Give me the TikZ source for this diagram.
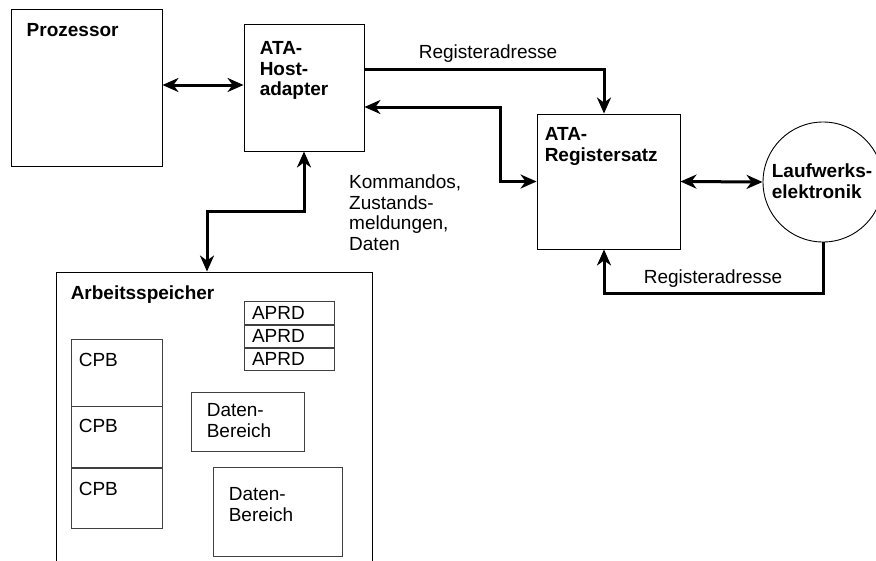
\documentclass[tikz,border=0pt]{standalone}
\usepackage{fontspec}
\setmainfont{Liberation Sans}
\usetikzlibrary{arrows.meta, positioning}

\begin{document}
\begin{tikzpicture}[
		x=1pt, y=-1pt,
		font=\fontsize{19}{20.5}\selectfont,
		box/.style= {
				draw,
				line width=0.9pt,
				rectangle,
				inner sep=0pt
			},
		part/.style= {
				draw=black!75,
				line width=0.8pt,
				rectangle,
				inner sep=0pt
			},
		title/.style= {
				font=\fontsize{19}{20.5}\selectfont\bfseries,
				align=left,
				inner sep=0pt,
				anchor=north west
			},
		txt/.style= {
				align=left,
				inner sep=0pt,
				anchor=north west
			},
		myarrow/.style= {
				line width=3pt,
				-{Stealth[length=16pt, width=14pt, inset=5pt]}
			},
		dblarrow/.style= {
				line width=3pt,
				{Stealth[length=16pt, width=14pt, inset=5pt]}-{Stealth[length=16pt, width=14pt, inset=5pt]}
			}
	]
	\useasboundingbox (0,0) rectangle (876,560);

	% main blocks
	\node[box, minimum width=151pt, minimum height=157pt] (proz) at (86.5,87.5) {};
	\node[box, minimum width=120pt, minimum height=127pt] (host) at (304,87.5) {};
	\node[box, minimum width=143pt, minimum height=135pt] (reg) at (608.5,181.5) {};
	\node[draw, circle, line width=0.9pt, minimum size=120pt, inner sep=0pt] (lw) at (823,182) {};
	\node[box, minimum width=316pt, minimum height=308pt] (arb) at (214,426) {};

	\node[title] (prozt) at ([shift={(16pt,-15pt)}]proz.north west) {Prozessor};
	\node[title] (hostt) at ([shift={(16pt,-18pt)}]host.north west) {ATA-\\Host-\\adapter};
	\node[title] (regt) at ([shift={(8pt,-14pt)}]reg.north west) {ATA-\\Registersatz};
	\node[title, anchor=center] (lwt) at ([shift={(-1pt,1pt)}]lw.center) {Laufwerks-\\elektronik};
	\node[title] (arbt) at ([shift={(15pt,-14pt)}]arb.north west) {Arbeitsspeicher};

	% inside the memory
	\node[part, minimum width=90pt, minimum height=22.3pt, text width=74pt, align=left] (aprd1) at (289,313) {APRD};
	\node[part, minimum width=90pt, minimum height=22.3pt, text width=74pt, align=left] (aprd2) [below = 0pt of aprd1] {APRD};
	\node[part, minimum width=90pt, minimum height=22.3pt, text width=74pt, align=left] (aprd3) [below = 0pt of aprd2] {APRD};

	\node[part, minimum width=91pt, minimum height=67pt] (cpb1) at (116.5,372.5) {};
	\node[part, minimum width=91pt, minimum height=61pt] (cpb2) [below = 0pt of cpb1] {};
	\node[part, minimum width=91pt, minimum height=60pt] (cpb3) [below = 0pt of cpb2] {};
	\node[txt] (cpb1t) at ([shift={(8pt,-14pt)}]cpb1.north west) {CPB};
	\node[txt] (cpb2t) at ([shift={(8pt,-13pt)}]cpb2.north west) {CPB};
	\node[txt] (cpb3t) at ([shift={(8pt,-14pt)}]cpb3.north west) {CPB};

	\node[part, minimum width=113pt, minimum height=59pt] (daten1) at (247.5,421.5) {};
	\node[part, minimum width=129pt, minimum height=89pt] (daten2) at (277.5,511.5) {};
	\node[txt] (daten1t) at ([shift={(16pt,-12pt)}]daten1.north west) {Daten-\\Bereich};
	\node[txt] (daten2t) at ([shift={(16pt,-21pt)}]daten2.north west) {Daten-\\Bereich};

	% connections
	\draw[dblarrow] ([yshift=2.5pt]proz.east) -- ([yshift=2.5pt]host.west);
	\draw[myarrow] ([yshift=18.5pt]host.east) -| ([xshift=-4.5pt]reg.north);
	\draw[dblarrow] ([yshift=-19.5pt]host.east) -- ++(136,0) |- (reg.west);
	\draw[dblarrow] (reg.east) -- (lw.west);
	\draw[myarrow] (lw.south) -- ++(0,51) -| ([xshift=-4.5pt]reg.south);
	\draw[dblarrow] (host.south) -- ++(0,60) -| ([xshift=-7pt]arb.north);

	\node[inner sep=0pt, anchor=south] (adr1) at (488,63) {Registeradresse};
	\node[inner sep=0pt, anchor=south] (adr2) at (713,288) {Registeradresse};
	\node[txt] (kommt) at (349,175) {Kommandos,\\Zustands-\\meldungen,\\Daten};
\end{tikzpicture}
\end{document}
